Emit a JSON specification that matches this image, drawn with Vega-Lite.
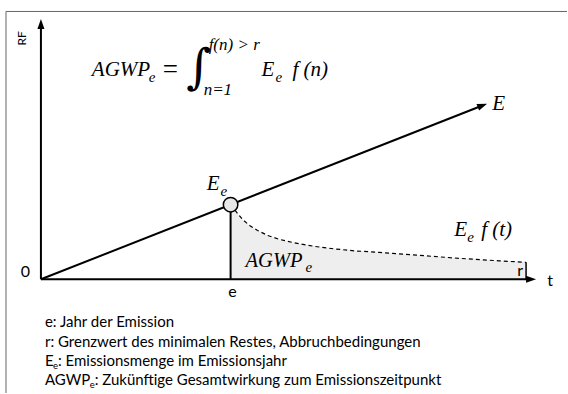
{
  "$schema": "https://vega.github.io/schema/vega-lite/v6.json",
  "width": 568,
  "height": 394,
  "autosize": {"type": "fit", "contains": "padding"},
  "padding": 0,
  "background": "white",
  "config": {"view": {"stroke": null}},
  "datasets": {
    "curve": [
      {"x": 19.0, "y": 7.48}, {"x": 19.7, "y": 6.6}, {"x": 20.2, "y": 6.0}, {"x": 20.9, "y": 5.4},
      {"x": 21.7, "y": 4.9}, {"x": 22.7, "y": 4.4}, {"x": 23.9, "y": 4.0}, {"x": 25.4, "y": 3.65},
      {"x": 27.4, "y": 3.3}, {"x": 29.4, "y": 3.05}, {"x": 31.4, "y": 2.85}, {"x": 33.9, "y": 2.7},
      {"x": 37.9, "y": 2.4}, {"x": 41.9, "y": 2.1}, {"x": 45.9, "y": 1.85}, {"x": 48.6, "y": 1.7}
    ],
    "segs": [
      {"part": "frame", "x": -3.5, "x2": 52.7, "y": 26.85, "y2": 26.85},
      {"part": "frame", "x": -3.5, "x2": -3.5, "y": 26.85, "y2": -11.4},
      {"part": "axis", "x": 0, "x2": 0, "y": 0, "y2": 25.6},
      {"part": "axis", "x": 0, "x2": 49.1, "y": 0, "y2": 0},
      {"part": "axis", "x": 0, "x2": 44.23, "y": 0, "y2": 17.42},
      {"part": "axis", "x": 19, "x2": 19, "y": 0, "y2": 7.48},
      {"part": "rtick", "x": 48.6, "x2": 48.6, "y": 0, "y2": 1.7}
    ],
    "heads": [
      {"dir": "up", "x": 0, "y": 25.6},
      {"dir": "right", "x": 49.1, "y": 0},
      {"dir": "E", "x": 44.23, "y": 17.42}
    ],
    "marker": [{"x": 19, "y": 7.48}],
    "texts": [
      {"role": "math", "text": "AGWP", "x": 5.1, "y": 20.4},
      {"role": "eq", "text": "=", "x": 12.2, "y": 20.15},
      {"role": "math", "text": "E", "x": 22.1, "y": 20.4},
      {"role": "math", "text": "f", "x": 25.2, "y": 20.4},
      {"role": "math", "text": "(n)", "x": 26.3, "y": 20.4},
      {"role": "math", "text": "E", "x": 45.2, "y": 17.0},
      {"role": "math", "text": "E", "x": 16.6, "y": 9.0},
      {"role": "math", "text": "E", "x": 41.4, "y": 4.3},
      {"role": "math", "text": "f", "x": 44.1, "y": 4.3},
      {"role": "math", "text": "(t)", "x": 45.2, "y": 4.3},
      {"role": "mathmid", "text": "AGWP", "x": 20.5, "y": 1.2},
      {"role": "sub", "text": "e", "x": 10.8, "y": 19.8},
      {"role": "sub", "text": "e", "x": 23.5, "y": 19.8},
      {"role": "sub", "text": "e", "x": 18.0, "y": 8.4},
      {"role": "sub", "text": "e", "x": 42.7, "y": 3.7},
      {"role": "sub", "text": "e", "x": 26.5, "y": 0.7},
      {"role": "limit", "text": "f(n) > r", "x": 16.8, "y": 23.0},
      {"role": "limit", "text": "n=1", "x": 16.3, "y": 18.5},
      {"role": "integral", "text": "∫", "x": 15.8, "y": 19.7},
      {"role": "label", "text": "0", "x": -1.55, "y": 0.2},
      {"role": "label", "text": "e", "x": 19.2, "y": -1.8},
      {"role": "label", "text": "t", "x": 51.0, "y": -0.7},
      {"role": "label", "text": "r", "x": 48.0, "y": 0.3},
      {"role": "axistitle", "text": "RF", "x": -1.85, "y": 24.15},
      {"role": "legend", "text": "e: Jahr der Emission", "x": 0.4, "y": -4.8},
      {"role": "legend", "text": "r:  Grenzwert des minimalen Restes, Abbruchbedingungen", "x": 0.4, "y": -6.8},
      {"role": "legend", "text": "E", "x": 0.4, "y": -8.7},
      {"role": "legendsub", "text": "e", "x": 1.2, "y": -9.0},
      {"role": "legend", "text": ": Emissionsmenge im Emissionsjahr", "x": 1.7, "y": -8.7},
      {"role": "legend", "text": "AGWP", "x": 0.4, "y": -10.6},
      {"role": "legendsub", "text": "e", "x": 4.88, "y": -10.9},
      {"role": "legend", "text": ": Zukünftige Gesamtwirkung zum Emissionszeitpunkt", "x": 5.38, "y": -10.6}
    ]
  },
  "encoding": {
    "x": {"field": "x", "type": "quantitative", "scale": {"domain": [-4.1, 52.7], "nice": false, "zero": false}, "axis": null},
    "y": {"field": "y", "type": "quantitative", "scale": {"domain": [-11.4, 28.0], "nice": false, "zero": false}, "axis": null}
  },
  "layer": [
    {"data": {"name": "curve"}, "mark": {"type": "area", "color": "#eeeeee"}, "encoding": {"y2": {"datum": 0}}},
    {"data": {"name": "curve"}, "mark": {"type": "line", "color": "black", "strokeWidth": 1.2, "strokeDash": [4, 3]}},
    {"data": {"name": "segs"}, "transform": [{"filter": "datum.part == 'frame'"}], "mark": {"type": "rule", "color": "#666666", "strokeWidth": 1}, "encoding": {"x2": {"field": "x2"}, "y2": {"field": "y2"}}},
    {"data": {"name": "segs"}, "transform": [{"filter": "datum.part == 'axis'"}], "mark": {"type": "rule", "color": "black", "strokeWidth": 2}, "encoding": {"x2": {"field": "x2"}, "y2": {"field": "y2"}}},
    {"data": {"name": "segs"}, "transform": [{"filter": "datum.part == 'rtick'"}], "mark": {"type": "rule", "color": "black", "strokeWidth": 1.5}, "encoding": {"x2": {"field": "x2"}, "y2": {"field": "y2"}}},
    {"data": {"name": "heads"}, "transform": [{"filter": "datum.dir == 'up'"}], "mark": {"type": "point", "shape": "M0,-1L0.7,1L-0.7,1Z", "size": 100, "filled": true, "color": "black", "opacity": 1, "angle": 0}},
    {"data": {"name": "heads"}, "transform": [{"filter": "datum.dir == 'right'"}], "mark": {"type": "point", "shape": "M0,-1L0.7,1L-0.7,1Z", "size": 100, "filled": true, "color": "black", "opacity": 1, "angle": 90}},
    {"data": {"name": "heads"}, "transform": [{"filter": "datum.dir == 'E'"}], "mark": {"type": "point", "shape": "M0,-1L0.7,1L-0.7,1Z", "size": 100, "filled": true, "color": "black", "opacity": 1, "angle": 68.5}},
    {"data": {"name": "marker"}, "mark": {"type": "point", "shape": "circle", "size": 210, "filled": true, "fill": "#e8e8e8", "stroke": "black", "strokeWidth": 1.5, "opacity": 1}},
    {"data": {"name": "texts"}, "transform": [{"filter": "datum.role == 'math'"}], "mark": {"type": "text", "font": "Liberation Serif", "fontStyle": "italic", "fontSize": 21, "align": "left", "baseline": "alphabetic", "color": "black"}, "encoding": {"text": {"field": "text"}}},
    {"data": {"name": "texts"}, "transform": [{"filter": "datum.role == 'eq'"}], "mark": {"type": "text", "font": "Liberation Serif", "fontSize": 27, "align": "left", "baseline": "alphabetic", "color": "black"}, "encoding": {"text": {"field": "text"}}},
    {"data": {"name": "texts"}, "transform": [{"filter": "datum.role == 'mathmid'"}], "mark": {"type": "text", "font": "Liberation Serif", "fontStyle": "italic", "fontSize": 20.5, "align": "left", "baseline": "alphabetic", "color": "black"}, "encoding": {"text": {"field": "text"}}},
    {"data": {"name": "texts"}, "transform": [{"filter": "datum.role == 'sub'"}], "mark": {"type": "text", "font": "Liberation Serif", "fontStyle": "italic", "fontSize": 15, "align": "left", "baseline": "alphabetic", "color": "black"}, "encoding": {"text": {"field": "text"}}},
    {"data": {"name": "texts"}, "transform": [{"filter": "datum.role == 'limit'"}], "mark": {"type": "text", "font": "Liberation Serif", "fontStyle": "italic", "fontSize": 17, "align": "left", "baseline": "alphabetic", "color": "black"}, "encoding": {"text": {"field": "text"}}},
    {"data": {"name": "texts"}, "transform": [{"filter": "datum.role == 'integral'"}], "mark": {"type": "text", "font": "DejaVu Serif", "fontStyle": "italic", "fontWeight": "normal", "fontSize": 48, "align": "center", "baseline": "alphabetic", "color": "black"}, "encoding": {"text": {"field": "text"}}},
    {"data": {"name": "texts"}, "transform": [{"filter": "datum.role == 'label'"}], "mark": {"type": "text", "font": "Lato", "fontSize": 16, "align": "center", "baseline": "alphabetic", "color": "black"}, "encoding": {"text": {"field": "text"}}},
    {"data": {"name": "texts"}, "transform": [{"filter": "datum.role == 'axistitle'"}], "mark": {"type": "text", "font": "Lato", "fontSize": 12, "angle": 270, "align": "center", "baseline": "middle", "color": "black"}, "encoding": {"text": {"field": "text"}}},
    {"data": {"name": "texts"}, "transform": [{"filter": "datum.role == 'legend'"}], "mark": {"type": "text", "font": "Lato", "fontSize": 15, "align": "left", "baseline": "alphabetic", "color": "black"}, "encoding": {"text": {"field": "text"}}},
    {"data": {"name": "texts"}, "transform": [{"filter": "datum.role == 'legendsub'"}], "mark": {"type": "text", "font": "Lato", "fontSize": 9.5, "align": "left", "baseline": "alphabetic", "color": "black"}, "encoding": {"text": {"field": "text"}}}
  ]
}
